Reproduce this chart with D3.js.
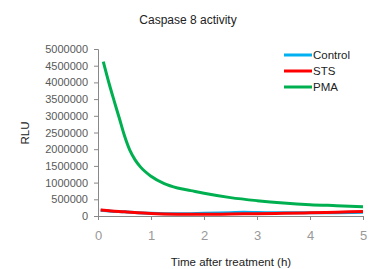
<!DOCTYPE html>
<html><head><meta charset="utf-8">
<script src="https://cdn.jsdelivr.net/npm/d3@7"></script>
<style>body{margin:0;background:#fff}svg{display:block;font-family:"Liberation Sans",Arial,sans-serif}</style>
</head><body><svg id="c" width="376" height="269"></svg>
<script>
const title = "Caspase 8 activity";
const xLabel = "Time after treatment (h)";
const yLabel = "RLU";
const seriesNames = ["Control", "STS", "PMA"];
const seriesColors = ["#00B0F0", "#FF0000", "#00B050"];
const xTicks = [0, 1, 2, 3, 4, 5];
const yTicks = [0, 500000, 1000000, 1500000, 2000000, 2500000, 3000000, 3500000, 4000000, 4500000, 5000000];
const timeControl = [0.05, 0.25, 0.5, 0.75, 1, 1.5, 2, 2.5, 2.75, 3, 3.5, 4, 4.5, 5];
const control = [170000, 145000, 125000, 95000, 80000, 65000, 80000, 100000, 110000, 105000, 95000, 95000, 100000, 110000];
const timeSTS = [0.05, 0.25, 0.5, 0.75, 1, 1.5, 2, 2.5, 3, 3.5, 4, 4.5, 5];
const sts = [180000, 150000, 125000, 95000, 75000, 55000, 50000, 60000, 70000, 80000, 95000, 115000, 135000];
const timePMA = [0.1, 0.2, 0.3, 0.4, 0.5, 0.6, 0.7, 0.8, 1, 1.25, 1.5, 1.75, 2, 2.5, 3, 3.5, 4, 4.5, 5];
const pma = [4620000, 4020000, 3470000, 2940000, 2400000, 1970000, 1680000, 1470000, 1190000, 970000, 840000, 760000, 680000, 550000, 460000, 390000, 340000, 310000, 280000];

const svg = d3.select("#c");
const m = {l: 98, r: 13, t: 49, b: 53};
const W = 376, H = 269;
const x = d3.scaleLinear().domain([0, 5]).range([m.l, W - m.r]);
const y = d3.scaleLinear().domain([0, 5000000]).range([H - m.b, m.t]);

svg.append("text").attr("x", 188).attr("y", 24).attr("text-anchor", "middle")
  .attr("font-size", 12).attr("fill", "#222").text(title);

const ya = svg.append("g").attr("transform", `translate(${m.l},0)`)
  .call(d3.axisLeft(y).tickValues(yTicks).tickFormat(d3.format("d")).tickSize(4).tickPadding(6));
ya.selectAll("text").attr("font-size", 11).attr("fill", "#595959").attr("font-family", "'Liberation Sans',Arial,sans-serif");
ya.selectAll("line,path").attr("stroke", "#888");

const xa = svg.append("g").attr("transform", `translate(0,${H - m.b})`)
  .call(d3.axisBottom(x).tickValues(xTicks).tickFormat(d3.format("d")).tickSize(4).tickPadding(11));
xa.selectAll("text").attr("font-size", 13).attr("fill", "#999").attr("font-family", "'Liberation Sans',Arial,sans-serif");
xa.selectAll("line,path").attr("stroke", "#888");

svg.append("text").attr("x", 231).attr("y", 266).attr("text-anchor", "middle")
  .attr("font-size", 11.5).attr("fill", "#222").text(xLabel);
svg.append("text").attr("transform", "translate(29,133) rotate(-90)").attr("text-anchor", "middle")
  .attr("font-size", 11.5).attr("fill", "#222").text(yLabel);

const data = [
  {t: timeControl, v: control},
  {t: timeSTS, v: sts},
  {t: timePMA, v: pma}
];
const line = d3.line().x(d => x(d[0])).y(d => y(d[1])).curve(d3.curveMonotoneX);
data.forEach((s, i) => {
  svg.append("path").datum(s.t.map((t, j) => [t, s.v[j]]))
    .attr("fill", "none").attr("stroke", seriesColors[i]).attr("stroke-width", 3)
    .attr("stroke-linejoin", "round").attr("d", line);
});

const lg = svg.append("g");
seriesNames.forEach((n, i) => {
  const yy = 55 + i * 16;
  lg.append("line").attr("x1", 284).attr("x2", 312).attr("y1", yy).attr("y2", yy)
    .attr("stroke", seriesColors[i]).attr("stroke-width", 3);
  lg.append("text").attr("x", 313).attr("y", yy + 4).attr("font-size", 11.5).attr("fill", "#222").text(n);
});
</script></body></html>
